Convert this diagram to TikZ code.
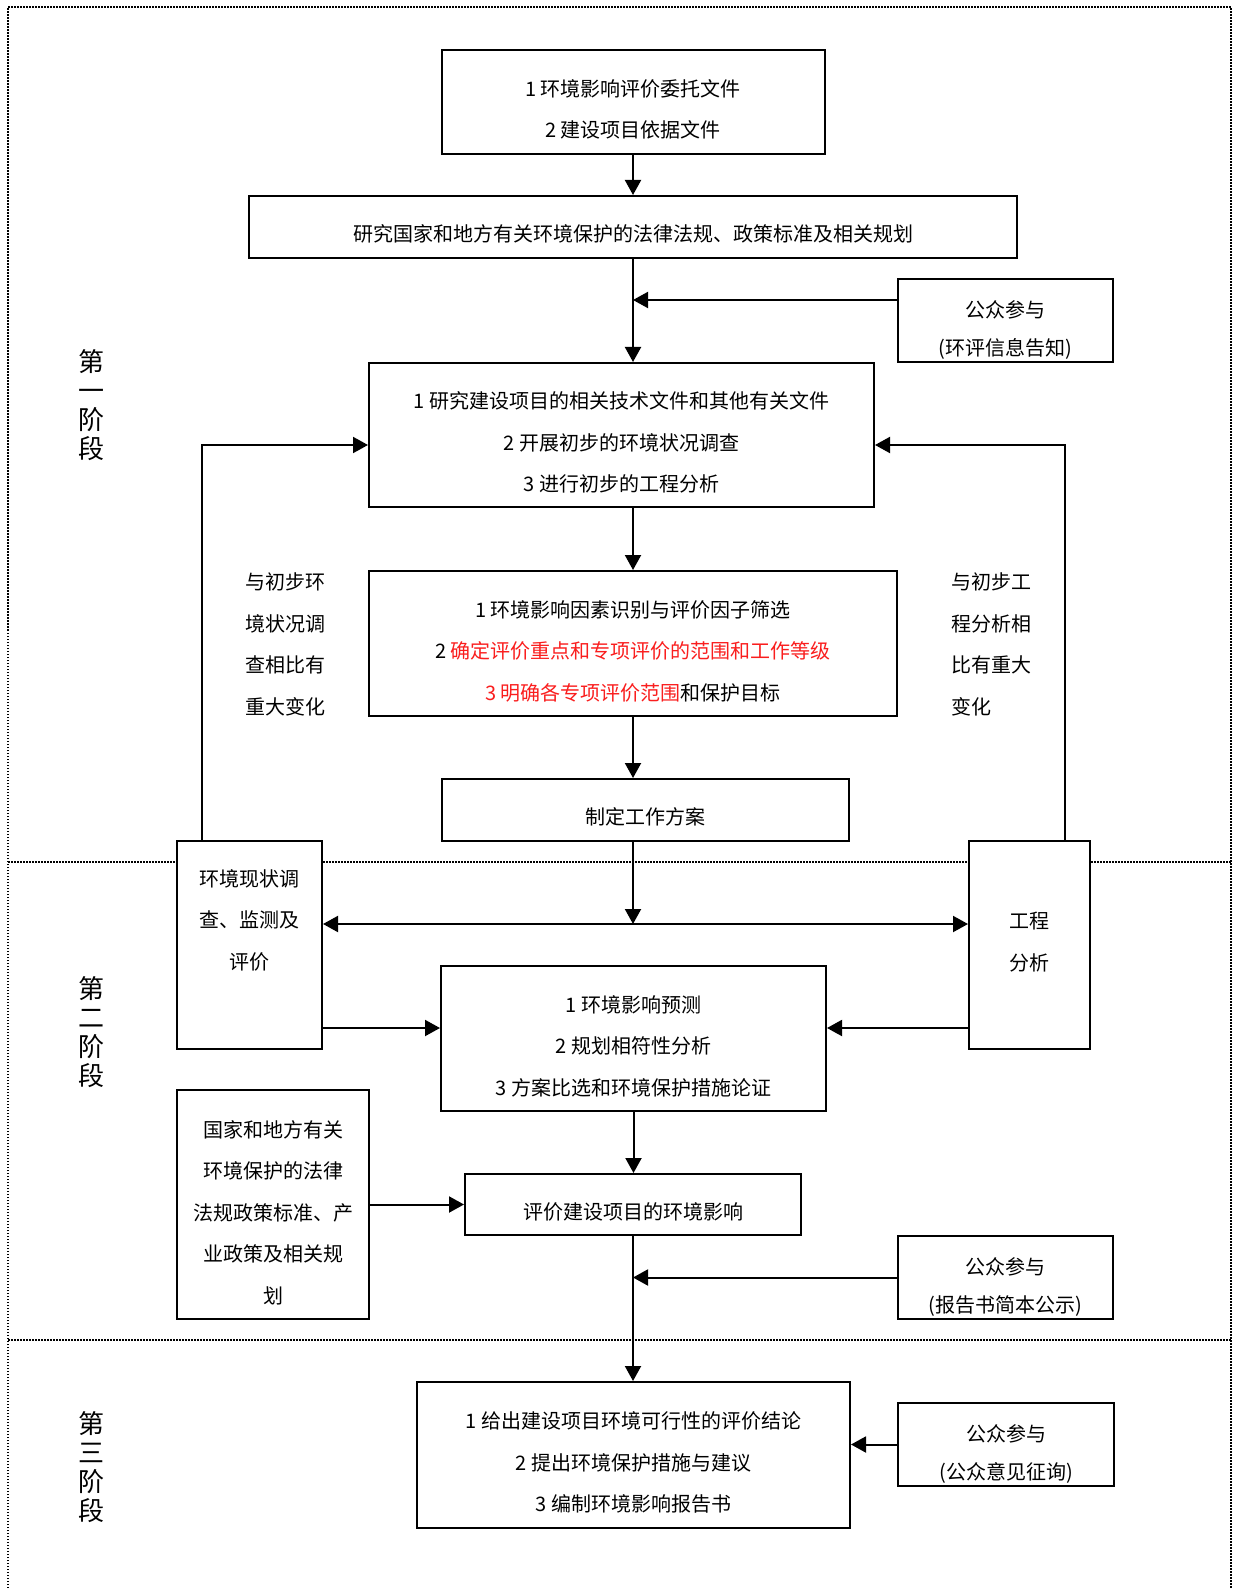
\documentclass[tikz,border=0pt]{standalone}
\usepackage{fontspec}
\setmainfont{Noto Sans CJK SC}
\usetikzlibrary{arrows.meta}
\definecolor{hlred}{RGB}{250,30,30}
\newcommand{\sinkline}[1][16pt]{\rule{0pt}{#1}}

\begin{document}
\begin{tikzpicture}[x=0.5pt, y=-0.5pt,
  box/.style = {draw, line width=1pt, fill=white, align=center, inner sep=0pt, font=\fontsize{10}{20.8}\selectfont},
  pubbox/.style = {box, minimum width=107.5pt, minimum height=41.5pt, font=\fontsize{10}{19.3}\selectfont},
  stage/.style = {align=center, inner sep=0pt, font=\fontsize{13}{14.4}\selectfont},
  note/.style = {align=left, anchor=west, inner sep=0pt, font=\fontsize{10}{20.8}\selectfont},
  arr/.style = {line width=1pt, -{Triangle[length=7.5pt, width=8pt]}},
  arrboth/.style = {line width=1pt, {Triangle[length=7.5pt, width=8pt]}-{Triangle[length=7.5pt, width=8pt]}},
  frame/.style = {line width=0.75pt, dash pattern=on 0.75pt off 0.75pt}]
        \useasboundingbox (0,0) rectangle (1237,1588);
        \draw[frame] (8,1588) -- (8,7) -- (1231,7) -- (1231,1588);
        \draw[frame] (8,862) -- (1231,862);
        \draw[frame] (8,1340) -- (1231,1340);

        \node[box, minimum width=191.5pt, minimum height=52pt] (entrust) at (633,102) {\sinkline1 环境影响评价委托文件\\2 建设项目依据文件};
        \node[box, minimum width=384pt, minimum height=31pt] (laws) at (633,227) {\sinkline[15.5pt]研究国家和地方有关环境保护的法律法规、政策标准及相关规划};
        \node[pubbox] (public1) at (1005.5,320.5) {\sinkline[18pt]公众参与\\(环评信息告知)};
        \node[box, minimum width=252.5pt, minimum height=72pt] (study) at (621.5,435) {\sinkline1 研究建设项目的相关技术文件和其他有关文件\\2 开展初步的环境状况调查\\3 进行初步的工程分析};
        \node[box, minimum width=264pt, minimum height=72.5pt] (factors) at (633,643.5) {\sinkline1 环境影响因素识别与评价因子筛选\\2 \textcolor{hlred}{确定评价重点和专项评价的范围和工作等级}\\\textcolor{hlred}{3 明确各专项评价范围}和保护目标};
        \node[box, minimum width=203.5pt, minimum height=31pt] (plan) at (645.5,810) {\sinkline[15.5pt]制定工作方案};
        \node[box, minimum width=72.5pt, minimum height=104pt] (survey) at (249.5,945) {环境现状调\\查、监测及\\评价\\\rule[-5pt]{0pt}{0pt}};
        \node[box, minimum width=60.5pt, minimum height=104pt] (project) at (1029.5,945) {工程\\分析\rule[-4pt]{0pt}{0pt}};
        \node[box, minimum width=192.5pt, minimum height=72.5pt] (predict) at (633.5,1038.5) {\sinkline1 环境影响预测\\2 规划相符性分析\\3 方案比选和环境保护措施论证};
        \node[box, minimum width=96pt, minimum height=114.5pt] (policy) at (273,1204.5) {\sinkline[16.5pt]国家和地方有关\\环境保护的法律\\法规政策标准、产\\业政策及相关规\\划};
        \node[box, minimum width=168pt, minimum height=30.5pt] (assess) at (633,1204.5) {\sinkline[15.5pt]评价建设项目的环境影响};
        \node[pubbox] (public2) at (1005.5,1277.5) {\sinkline[18pt]公众参与\\(报告书简本公示)};
        \node[box, minimum width=216.5pt, minimum height=73pt] (conclude) at (633.5,1455) {\sinkline1 给出建设项目环境可行性的评价结论\\2 提出环境保护措施与建议\\3 编制环境影响报告书};
        \node[pubbox, minimum width=108pt] (public3) at (1006,1444.5) {\sinkline[18pt]公众参与\\(公众意见征询)};

        \node[stage] (stage1) at (91,405) {第\\一\\阶\\段};
        \node[stage] (stage2) at (91,1032) {第\\二\\阶\\段};
        \node[stage] (stage3) at (91,1467) {第\\三\\阶\\段};
        \node[note] (backleft) at (245,644.5) {与初步环\\境状况调\\查相比有\\重大变化};
        \node[note] (backright) at (951,644.5) {与初步工\\程分析相\\比有重大\\变化};

        \coordinate (tip1) at (633,300);
        \coordinate (cross) at (633,924);
        \coordinate (side) at (0,1028);
        \coordinate (loopleft) at (202,445);
        \coordinate (loopright) at (1065,445);

        \draw[arr] (entrust) -- (laws);
        \draw[arr] (laws.south) -- (laws.south |- study.north);
        \draw[arr] (public1.west |- tip1) -- (tip1);
        \draw[arr] (factors.north |- study.south) -- (factors.north);
        \draw[arr] (factors.south) -- (factors.south |- plan.north);
        \draw[arr] (cross |- plan.south) -- (cross);
        \draw[arrboth] (survey.east |- cross) -- (project.west |- cross);
        \draw[arr] (survey.east |- side) -- (predict.west |- side);
        \draw[arr] (project.west |- side) -- (predict.east |- side);
        \draw[arr] (loopleft |- survey.north) -- (loopleft) -- (loopleft -| study.west);
        \draw[arr] (loopright |- project.north) -- (loopright) -- (loopright -| study.east);
        \draw[arr] (predict.south) -- (predict.south |- assess.north);
        \draw[arr] (policy) -- (assess);
        \draw[arr] (public2.west) -- (public2.west -| assess.south);
        \draw[arr] (assess.south) -- (assess.south |- conclude.north);
        \draw[arr] (public3.west) -- (public3.west -| conclude.east);
\end{tikzpicture}
\end{document}
